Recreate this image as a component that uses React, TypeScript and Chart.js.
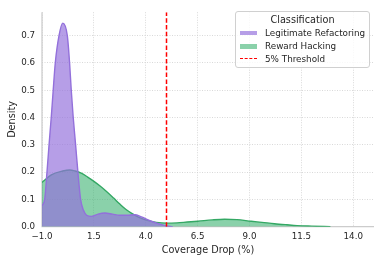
import React, { useEffect, useRef } from "react";
import { Chart, registerables } from "chart.js";

Chart.register(...registerables);

// Legitimate Refactoring KDE (x = coverage drop %, y = density)
const legitX = [-1.0, -0.87, -0.76, -0.66, -0.55, -0.46, -0.36, -0.18, 0.0, 0.22, 0.33, 0.41, 0.5, 0.62, 0.73, 0.86, 1.0, 1.15, 1.39, 1.7, 2.03, 2.4, 2.75, 3.1, 3.47, 3.79, 4.27, 4.67, 5.0, 5.3];
const legitY = [0.077, 0.1, 0.2, 0.3, 0.405, 0.5, 0.6, 0.7, 0.746, 0.7, 0.6, 0.5, 0.405, 0.3, 0.2, 0.1, 0.06, 0.042, 0.038, 0.046, 0.05, 0.046, 0.042, 0.042, 0.044, 0.036, 0.02, 0.01, 0.003, 0.0];

// Reward Hacking KDE
const hackX = [-1.0, -0.55, 0.0, 0.33, 0.6, 0.89, 1.2, 1.47, 1.8, 2.11, 2.45, 2.75, 3.05, 3.39, 3.7, 4.03, 4.51, 5.0, 5.5, 6.0, 6.51, 7.2, 7.8, 8.4, 9.08, 9.6, 10.2, 10.8, 11.3, 12.0, 12.9];
const hackY = [0.162, 0.19, 0.204, 0.208, 0.204, 0.196, 0.182, 0.168, 0.149, 0.129, 0.105, 0.083, 0.063, 0.046, 0.033, 0.024, 0.016, 0.013, 0.014, 0.017, 0.02, 0.025, 0.0275, 0.026, 0.02, 0.016, 0.011, 0.007, 0.004, 0.002, 0.0];

const xTicks = [-1.0, 1.5, 4.0, 6.5, 9.0, 11.5, 14.0];
const yTicks = [0.0, 0.1, 0.2, 0.3, 0.4, 0.5, 0.6, 0.7];
const thresholdX = 5;
const xMin = -1;
const xMax = 15;
const yMax = 0.786;

const seriesNames = ["Legitimate Refactoring", "Reward Hacking", "5% Threshold"];
const legendTitle = "Classification";
const xTitle = "Coverage Drop (%)";
const yTitle = "Density";

const PURPLE_LINE = "rgb(147,112,219)";
const PURPLE_FILL = "rgba(147,112,219,0.68)";
const GREEN_LINE = "rgb(52,168,100)";
const GREEN_FILL = "rgba(60,179,113,0.6)";
const TEXT = "#262626";
const FONT = "'DejaVu Sans', sans-serif";

const spinesPlugin = {
  id: "spines",
  beforeDatasetsDraw(chart: any) {
    const { ctx, chartArea: a } = chart;
    ctx.save();
    ctx.strokeStyle = "#cccccc";
    ctx.lineWidth = 1.25;
    ctx.beginPath();
    ctx.moveTo(a.left, a.top);
    ctx.lineTo(a.left, a.bottom);
    ctx.lineTo(a.right, a.bottom);
    ctx.stroke();
    ctx.restore();
  },
};

const fmt = (v: number) => v.toFixed(1).replace("-", "\u2212");

export default function App() {
  const canvasRef = useRef<HTMLCanvasElement | null>(null);

  useEffect(() => {
    if (!canvasRef.current) return;
    const chart = new Chart(canvasRef.current, {
      type: "line",
      data: {
        datasets: [
          {
            label: seriesNames[2],
            data: [
              { x: thresholdX, y: 0 },
              { x: thresholdX, y: yMax },
            ],
            borderColor: "#ff0000",
            borderWidth: 1.5,
            borderDash: [4.5, 2.3],
            pointRadius: 0,
            fill: false,
            order: 0,
          },
          {
            label: seriesNames[0],
            data: legitX.map((x, i) => ({ x, y: legitY[i] })),
            borderColor: PURPLE_LINE,
            backgroundColor: PURPLE_FILL,
            borderWidth: 1.4,
            pointRadius: 0,
            fill: "origin",
            cubicInterpolationMode: "monotone",
            order: 1,
          },
          {
            label: seriesNames[1],
            data: hackX.map((x, i) => ({ x, y: hackY[i] })),
            borderColor: GREEN_LINE,
            backgroundColor: GREEN_FILL,
            borderWidth: 1.4,
            pointRadius: 0,
            fill: "origin",
            cubicInterpolationMode: "monotone",
            order: 2,
          },
        ],
      },
      options: {
        responsive: false,
        animation: false,
        layout: { padding: { left: 0, top: 6.7, right: 7, bottom: 0 } },
        plugins: {
          legend: { display: false },
          tooltip: { enabled: false },
        },
        scales: {
          x: {
            type: "linear",
            min: xMin,
            max: xMax,
            afterBuildTicks: (scale: any) => {
              scale.ticks = xTicks.map((v) => ({ value: v }));
            },
            afterFit: (scale: any) => {
              scale.height = 36.3;
            },
            grid: { color: "#cfcfcf", lineWidth: 0.8, drawTicks: false },
            border: { display: false, dash: [1, 1.5] },
            ticks: {
              padding: 5,
              color: TEXT,
              font: { family: FONT, size: 8.7 },
              maxRotation: 0,
              autoSkip: false,
              callback: (v: any) => fmt(Number(v)),
            },
            title: {
              display: true,
              text: xTitle,
              color: TEXT,
              font: { family: FONT, size: 9.7 },
              padding: { top: 0, bottom: 7.2 },
            },
          },
          y: {
            type: "linear",
            min: 0,
            max: yMax,
            afterBuildTicks: (scale: any) => {
              scale.ticks = yTicks.map((v) => ({ value: v }));
            },
            afterFit: (scale: any) => {
              scale.width = 42;
            },
            grid: { color: "#cfcfcf", lineWidth: 0.8, drawTicks: false },
            border: { display: false, dash: [1, 1.5] },
            ticks: {
              padding: 7,
              color: TEXT,
              font: { family: FONT, size: 8.7 },
              autoSkip: false,
              callback: (v: any) => fmt(Number(v)),
            },
            title: {
              display: true,
              text: yTitle,
              color: TEXT,
              font: { family: FONT, size: 9.7 },
              padding: { top: 6.5, bottom: 0 },
            },
          },
        },
      },
      plugins: [spinesPlugin],
    } as any);
    return () => chart.destroy();
  }, []);

  const itemText: React.CSSProperties = {
    position: "absolute",
    left: 29,
    fontFamily: FONT,
    fontSize: 8.8,
    lineHeight: "10px",
    color: TEXT,
    whiteSpace: "nowrap",
  };

  return (
    <div style={{ position: "fixed", left: 0, top: 0, width: 381, height: 263, background: "#fff" }}>
      <canvas ref={canvasRef} width={381} height={263} style={{ display: "block", width: 381, height: 263 }} />
      <div
        style={{
          position: "absolute",
          left: 235,
          top: 11,
          width: 133,
          height: 55,
          border: "1px solid #d0d0d0",
          borderRadius: 3,
          background: "rgba(255,255,255,0.8)",
        }}
      >
        <div
          style={{
            position: "absolute",
            left: 0,
            width: "100%",
            top: 2,
            textAlign: "center",
            fontFamily: FONT,
            fontSize: 9.7,
            lineHeight: "12px",
            color: TEXT,
          }}
        >
          {legendTitle}
        </div>
        <div style={{ position: "absolute", left: 4, top: 18.5, width: 16.5, height: 4.5, background: PURPLE_FILL }} />
        <div style={{ ...itemText, top: 15.5 }}>{seriesNames[0]}</div>
        <div style={{ position: "absolute", left: 4, top: 32, width: 16.5, height: 4.5, background: GREEN_FILL }} />
        <div style={{ ...itemText, top: 29 }}>{seriesNames[1]}</div>
        <div
          style={{
            position: "absolute",
            left: 4,
            top: 45.5,
            width: 16.5,
            height: 0,
            borderTop: "1.5px dashed #ff0000",
          }}
        />
        <div style={{ ...itemText, top: 41.5 }}>{seriesNames[2]}</div>
      </div>
    </div>
  );
}
